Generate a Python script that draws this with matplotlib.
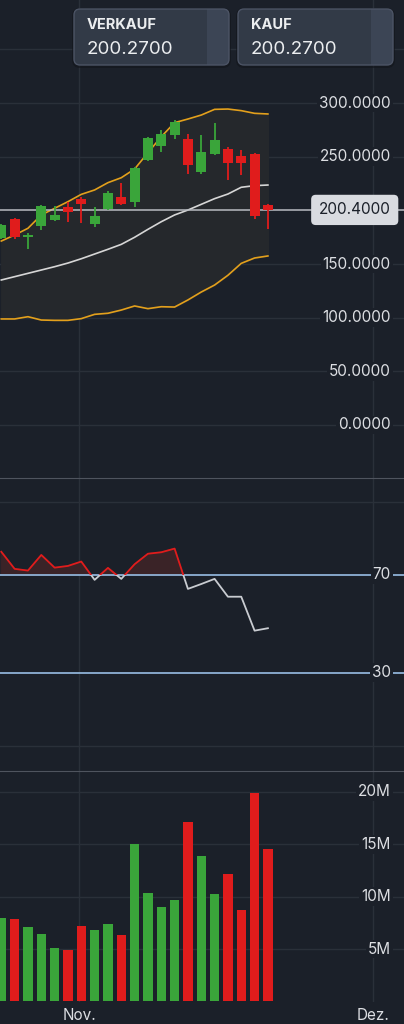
import matplotlib
matplotlib.use('Agg')
import matplotlib.pyplot as plt
import matplotlib.transforms as mtransforms
from matplotlib.patches import Rectangle, FancyBboxPatch
import numpy as np

plt.rcParams['font.family'] = ['Inter', 'DejaVu Sans']

# candles (daily)
opens = [174.0, 192.2, 175.4, 185.4, 191.0, 203.4, 210.9, 187.0, 201.0, 212.7, 207.8,
         246.6, 259.9, 269.9, 266.8, 235.4, 252.2, 256.9, 250.6, 252.5, 205.3]
highs = [187.0, 193.0, 178.6, 205.0, 204.0, 208.1, 212.7, 202.8, 218.3, 225.8, 240.0,
         268.5, 274.9, 284.2, 271.1, 269.9, 281.7, 259.3, 256.2, 253.7, 205.5]
lows = [173.0, 173.6, 164.0, 181.7, 190.5, 189.4, 188.5, 184.8, 200.5, 204.7, 202.8,
        246.0, 254.7, 266.5, 233.6, 233.9, 252.0, 228.3, 232.9, 192.2, 183.0]
closes = [186.3, 175.4, 176.2, 204.0, 195.7, 198.2, 206.2, 194.7, 216.0, 206.2, 239.2,
          267.7, 271.1, 282.0, 242.5, 254.1, 265.5, 244.1, 244.4, 195.0, 200.4]

# bollinger bands
bb_upper = [171.4, 177.0, 183.3, 195.7, 201.9, 208.1, 214.9, 219.0, 225.8, 230.4, 238.5,
            253.7, 268.6, 281.7, 285.1, 288.8, 294.1, 294.4, 292.9, 290.4, 289.8]
bb_mid = [135.1, 138.2, 141.3, 144.4, 147.5, 150.9, 154.9, 159.3, 163.7, 168.3, 174.9,
          182.3, 189.4, 195.7, 200.3, 205.6, 210.9, 215.2, 221.5, 223.0, 223.6]
bb_lower = [98.8, 98.8, 100.9, 97.8, 97.5, 97.5, 99.1, 103.1, 104.1, 107.1, 110.9,
            108.4, 110.2, 109.9, 116.5, 123.9, 130.4, 139.5, 150.6, 155.6, 157.5]

rsi = [79.5, 72.5, 71.8, 78.2, 73.0, 73.7, 75.5, 68.0, 72.9, 68.4, 74.4,
       78.7, 79.3, 80.8, 64.3, 66.3, 68.4, 61.1, 61.1, 47.2, 48.2]

volume_m = [8.0, 7.9, 7.1, 6.45, 5.15, 4.9, 7.25, 6.8, 7.35, 6.3, 15.0,
            10.4, 9.0, 9.7, 17.1, 13.9, 10.3, 12.15, 8.7, 19.9, 14.6]

last_price = 200.4
sell_price = "200.2700"
buy_price = "200.2700"

price_ticks = [0, 50, 100, 150, 250, 300]
rsi_levels = [70, 30]
vol_ticks = [5, 10, 15, 20]
month_pos = [5.83, 27.88]
month_labels = ["Nov.", "Dez."]

# colours
bg = '#1b2029'
grid_c = '#2a3039'
sep_c = '#4f545e'
txt_c = '#dcdee2'
green = '#3aa53a'
red = '#e01c1c'
orange = '#e3a01c'

x = np.arange(len(opens))
o = np.array(opens); c = np.array(closes)
cols = [green if cc >= oo else red for oo, cc in zip(o, c)]

fig = plt.figure(figsize=(4.04, 10.24), dpi=100, facecolor=bg)
xlim = (-0.0975, 30.21)

ax1 = fig.add_axes([0, 1 - 478 / 1024, 1, 478 / 1024])
ax2 = fig.add_axes([0, 1 - 771 / 1024, 1, 293 / 1024])
ax3 = fig.add_axes([0, 1 - 1002 / 1024, 1, 231 / 1024])

for ax in (ax1, ax2, ax3):
    ax.set_facecolor(bg)
    ax.set_xlim(*xlim)
    ax.set_xticks([]); ax.set_yticks([])
    for s in ax.spines.values():
        s.set_visible(False)
    for m in month_pos:
        ax.axvline(m, color=grid_c, lw=1, zorder=0)

ax2.spines['top'].set_visible(True); ax2.spines['top'].set_color(sep_c)
ax3.spines['top'].set_visible(True); ax3.spines['top'].set_color(sep_c)

def right_label(ax, y, s, color=txt_c):
    tr = mtransforms.blended_transform_factory(ax.transAxes, ax.transData)
    ax.text(0.967, y, s, transform=tr, ha='right', va='center', fontsize=11,
            color=color, zorder=5,
            bbox=dict(boxstyle='square,pad=0.12', fc=bg, ec='none'))

# ---- price pane
ax1.set_ylim(-49.4, 396.0)
for v in price_ticks + [350]:
    ax1.axhline(v, color=grid_c, lw=1, zorder=0)
ax1.fill_between(x, bb_lower, bb_upper, color='#25282c', zorder=1)
ax1.plot(x, bb_upper, color=orange, lw=1.2, zorder=2)
ax1.plot(x, bb_lower, color=orange, lw=1.2, zorder=2)
ax1.plot(x, bb_mid, color='#d6d6d6', lw=1.2, zorder=2)
ax1.axhline(last_price, color='#b9bcc2', lw=1.1, zorder=2)
ax1.vlines(x, lows, highs, colors=cols, lw=1.3, zorder=3)
body = np.where(np.abs(c - o) < 1.2, 1.2, c - o)
ax1.bar(x, body, bottom=o, width=0.75, color=cols, zorder=4)
for v in price_ticks:
    right_label(ax1, v, f"{v:.4f}")
tr1 = mtransforms.blended_transform_factory(ax1.transAxes, ax1.transData)
ax1.text(0.967, last_price, f"{last_price:.4f}", transform=tr1, ha='right', va='center',
         fontsize=11, color='#1b2029', zorder=6,
         bbox=dict(boxstyle='round,pad=0.5,rounding_size=0.3', fc='#d9dbe0', ec='none'))

# ---- RSI pane
ax2.set_ylim(-10.25, 109.7)
for v in (0, 100):
    ax2.axhline(v, color=grid_c, lw=1, zorder=0)
for v in rsi_levels:
    ax2.axhline(v, color='#8fb2d6', lw=1.3, zorder=2)
r = np.array(rsi)
ax2.fill_between(x, r, 70, where=r > 70, interpolate=True, color='#3a2327', zorder=1)
hi, = ax2.plot(x, r, color=red, lw=1.3, zorder=3)
hi.set_clip_path(Rectangle((-5, 70), 60, 100, transform=ax2.transData))
lo, = ax2.plot(x, r, color='#c9ccd1', lw=1.3, zorder=3)
lo.set_clip_path(Rectangle((-5, -60), 60, 130, transform=ax2.transData))
for v in rsi_levels:
    right_label(ax2, v, str(v))

# ---- volume pane
ax3.set_ylim(-0.05, 22.0)
for v in vol_ticks:
    ax3.axhline(v, color=grid_c, lw=1, zorder=0)
ax3.bar(x, volume_m, width=0.7, color=cols, zorder=2)
for v in vol_ticks:
    right_label(ax3, v, f"{v}M")
trx = mtransforms.blended_transform_factory(ax3.transData, fig.transFigure)
for m, lab in zip(month_pos, month_labels):
    ax3.text(m, 1 - 1016 / 1024, lab, transform=trx, ha='center', va='center',
             fontsize=11, color=txt_c)

# ---- sell / buy boxes (pixel overlay)
ov = fig.add_axes([0, 0, 1, 1])
ov.set_xlim(0, 404); ov.set_ylim(1024, 0); ov.axis('off')
ov.patch.set_visible(False)

def price_box(x0, x1, strip, title, value):
    shadow = FancyBboxPatch((x0 - 2, 8), x1 - x0 + 4, 60, boxstyle='round,pad=0,rounding_size=8',
                            fc='#12151b', ec='none', alpha=0.6, zorder=9)
    ov.add_patch(shadow)
    box = FancyBboxPatch((x0, 9), x1 - x0, 56, boxstyle='round,pad=0,rounding_size=6',
                         fc='#323a47', ec='none', zorder=10)
    ov.add_patch(box)
    st = Rectangle((strip, 0), x1 - strip, 80, fc='#3c4555', ec='none', zorder=11)
    ov.add_patch(st)
    st.set_clip_path(box)
    ov.add_patch(FancyBboxPatch((x0, 9), x1 - x0, 56, boxstyle='round,pad=0,rounding_size=6',
                                fc='none', ec='#4c5465', lw=1, zorder=12))
    ov.text(x0 + 13, 25, title, fontsize=10.5, fontweight='bold', color='#eceef0',
            va='center', ha='left', zorder=13)
    ov.text(x0 + 13, 49.5, value, fontsize=13.5, color='#eceef0', va='center', ha='left',
            zorder=13)

price_box(74, 229, 207, "VERKAUF", sell_price)
price_box(238, 393, 371, "KAUF", buy_price)

fig.savefig('out.png', dpi=100, facecolor=bg)
